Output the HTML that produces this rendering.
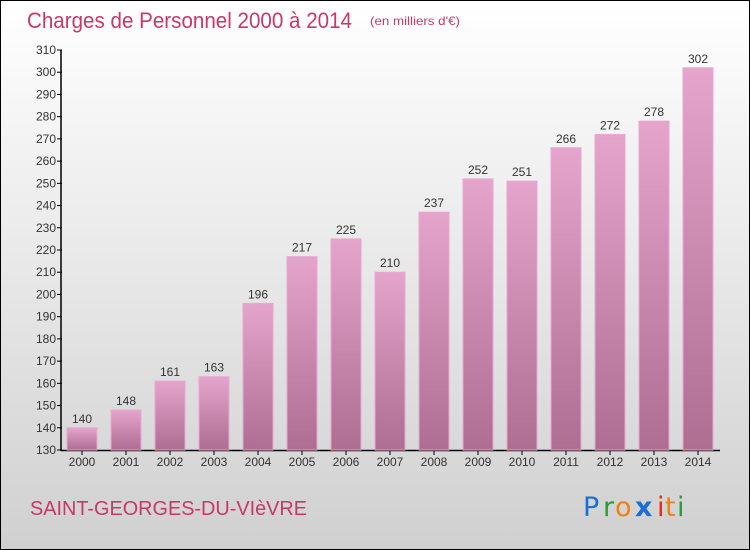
<!DOCTYPE html>
<html><head><meta charset="utf-8"><style>
html,body{margin:0;padding:0}
body{width:750px;height:550px;overflow:hidden;font-family:"Liberation Sans",sans-serif}
#wrap{position:absolute;left:0;top:0;width:748px;height:548px;border:1px solid #000;background:linear-gradient(#ffffff,#d0d0d0)}
</style></head><body>
<div id="wrap">
<svg width="748" height="548" viewBox="1 1 748 548" style="position:absolute;left:0;top:0" id="svg">
<defs><linearGradient id="bg" x1="0" y1="0" x2="0" y2="1"><stop offset="0" stop-color="#e4a4cc"/><stop offset="1" stop-color="#ae6e92"/></linearGradient></defs>
<text x="27" y="28" font-size="22" fill="#c8386a" textLength="325" lengthAdjust="spacingAndGlyphs">Charges de Personnel 2000 à 2014</text>
<text x="370" y="25" font-size="12" fill="#c8386a" textLength="90" lengthAdjust="spacingAndGlyphs">(en milliers d'€)</text>
<text x="30" y="515" font-size="20" fill="#c8386a" textLength="277" lengthAdjust="spacingAndGlyphs">SAINT-GEORGES-DU-VIèVRE</text>
<g font-size="27" font-family="'DejaVu Sans',sans-serif">
<text x="583" y="516" fill="#1a6fd0">P</text><text x="603" y="516" fill="#2a9a3a">r</text><text x="615" y="516" fill="#f08010">o</text><text x="635" y="516" fill="#1a6fd0" font-weight="bold">x</text><text x="657" y="516" fill="#e03010">i</text><text x="665" y="516" fill="#f08010">t</text><text x="677" y="516" fill="#2a9a3a">i</text>
</g>
<g id="axes"></g><g id="bars"></g>
</svg></div>
<script>
const categories=["2000","2001","2002","2003","2004","2005","2006","2007","2008","2009","2010","2011","2012","2013","2014"];
const values=[140,148,161,163,196,217,225,210,237,252,251,266,272,278,302];
const yTicks=[130,140,150,160,170,180,190,200,210,220,230,240,250,260,270,280,290,300,310];
const NS="http://www.w3.org/2000/svg";
const y=v=>450-(v-130)*400/180;
const x=i=>82+i*44;
function mk(t,a,p){const e=document.createElementNS(NS,t);for(const k in a)e.setAttribute(k,a[k]);p.appendChild(e);return e;}
const ax=document.getElementById('axes'),bs=document.getElementById('bars');
let l=mk('line',{x1:61,y1:50,x2:61,y2:451,stroke:'#000','stroke-width':1.5},ax);


l=mk('line',{x1:61,y1:450.5,x2:720,y2:450.5,stroke:'#000','stroke-width':1.5},ax);


yTicks.forEach(v=>{
 mk('line',{x1:57,y1:y(v),x2:62,y2:y(v),stroke:'#000'},ax);
 const t=mk('text',{x:56,y:y(v)+4,'font-size':12,fill:'#333','text-anchor':'end'},ax);t.textContent=v;
 
 
});
categories.forEach((c,i)=>{
 mk('line',{x1:x(i),y1:450,x2:x(i),y2:455,stroke:'#000'},ax);
 const t=mk('text',{x:x(i),y:466,'font-size':12,fill:'#333','text-anchor':'middle'},ax);t.textContent=c;
 
 
 const r=mk('rect',{x:x(i)-15,y:y(values[i]),width:30,height:450-y(values[i]),fill:'url(#bg)',stroke:'#e8a8d0','stroke-width':1},bs);
 
 
 const vt=mk('text',{x:x(i),y:y(values[i])-5,'font-size':12,fill:'#333','text-anchor':'middle'},bs);vt.textContent=values[i];
 
 
});
</script>
</body></html>
